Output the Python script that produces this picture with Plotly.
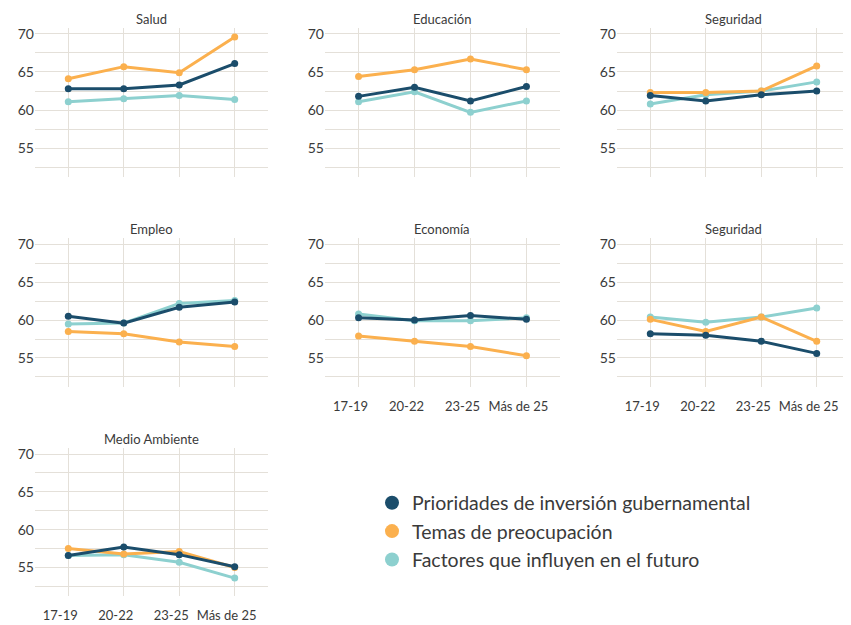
import plotly.graph_objects as go

# target window size and the page offset of the plot div inside it
WIN_W, WIN_H = 851, 625
DX, DY = 8, 10
W, H = WIN_W - DX, WIN_H - DY

age_groups = ["17-19", "20-22", "23-25", "Más de 25"]
series_names = [
    "Prioridades de inversión gubernamental",
    "Temas de preocupación",
    "Factores que influyen en el futuro",
]
panel_titles = ["Salud", "Educación", "Seguridad", "Empleo", "Economía", "Seguridad", "Medio Ambiente"]

# values per panel (same order as panel_titles)
prioridades = [
    [62.8, 62.8, 63.3, 66.1],
    [61.8, 63.0, 61.2, 63.1],
    [61.9, 61.2, 62.0, 62.5],
    [60.5, 59.6, 61.7, 62.4],
    [60.3, 60.0, 60.6, 60.1],
    [58.2, 58.0, 57.2, 55.6],
    [56.6, 57.7, 56.7, 55.1],
]
preocupacion = [
    [64.1, 65.7, 64.9, 69.6],
    [64.4, 65.3, 66.7, 65.3],
    [62.3, 62.3, 62.5, 65.8],
    [58.5, 58.2, 57.1, 56.5],
    [57.9, 57.2, 56.5, 55.3],
    [60.1, 58.5, 60.4, 57.2],
    [57.5, 56.8, 57.1, 55.0],
]
futuro = [
    [61.1, 61.5, 61.9, 61.4],
    [61.1, 62.4, 59.7, 61.2],
    [60.8, 62.0, 62.5, 63.7],
    [59.5, 59.6, 62.2, 62.6],
    [60.8, 59.9, 59.9, 60.3],
    [60.4, 59.7, 60.4, 61.6],
    [56.6, 56.7, 55.7, 53.6],
]
y_tick_vals = [52.5, 55, 57.5, 60, 62.5, 65, 67.5, 70]
y_tick_text = ["", "55", "", "60", "", "65", "", "70"]

colors = ["#1b4d6b", "#fbb04e", "#8dd0cf"]
grid_color = "#e4e0d9"
text_color = "#3a3a3a"
FONT = "Lato"


def fx(px):
    return (px - DX) / W


def fy(py):
    return 1 - (py - DY) / H


# layout positions (window pixels)
cols_px = [(35, 268), (325, 560), (617, 850)]
rows_px = [(27, 178), (240, 390), (452, 602)]
positions = [(0, 0), (0, 1), (0, 2), (1, 0), (1, 1), (1, 2), (2, 0)]
show_xlabels = [False, False, False, False, True, True, True]
label_standoff = [0, 0, 0, 0, 10, 10, 10]

fig = go.Figure()
layout = {}
annotations = []

for i, (r, c) in enumerate(positions):
    ax = "" if i == 0 else str(i + 1)
    x0, x1 = cols_px[c]
    y0, y1 = rows_px[r]
    # draw order: futuro bottom, preocupacion middle, prioridades top
    for data, col in [(futuro, colors[2]), (preocupacion, colors[1]), (prioridades, colors[0])]:
        fig.add_trace(go.Scatter(
            x=age_groups, y=data[i], mode="lines+markers",
            line=dict(color=col, width=3), marker=dict(color=col, size=7),
            showlegend=False, xaxis="x" + ax, yaxis="y" + ax, hoverinfo="skip",
        ))
    layout["xaxis" + ax] = dict(
        domain=[fx(x0), min(fx(x1), 1)], anchor="y" + ax, type="category",
        categoryorder="array", categoryarray=age_groups,
        range=[-0.6, 3.6], showgrid=True, gridcolor=grid_color, gridwidth=1,
        zeroline=False, showline=False, ticks="",
        showticklabels=show_xlabels[i], ticklabelstandoff=label_standoff[i],
        ticklabelshift=-8,
        tickfont=dict(family=FONT, size=13, color=text_color),
        fixedrange=True,
    )
    layout["yaxis" + ax] = dict(
        domain=[fy(y1), fy(y0)], anchor="x" + ax,
        range=[51.2, 70.8], tickmode="array", tickvals=y_tick_vals, ticktext=y_tick_text,
        showgrid=True, gridcolor=grid_color, gridwidth=1,
        zeroline=False, showline=False, ticks="",
        tickfont=dict(family=FONT, size=14, color=text_color),
        fixedrange=True,
    )
    annotations.append(dict(
        text=panel_titles[i], x=fx((x0 + x1) / 2), y=fy(y0 - 9),
        xref="paper", yref="paper", xanchor="center", yanchor="middle",
        showarrow=False, font=dict(family=FONT, size=13, color=text_color),
    ))

# legend entries
for name, col in zip(series_names, colors):
    fig.add_trace(go.Scatter(
        x=[None], y=[None], mode="markers", name=name, legendgroup=name,
        marker=dict(color=col, size=14), showlegend=True,
    ))

fig.update_layout(
    width=W, height=H,
    margin=dict(l=0, r=0, t=0, b=0),
    paper_bgcolor="white", plot_bgcolor="white",
    annotations=annotations,
    legend=dict(
        x=fx(372), y=fy(488), xanchor="left", yanchor="top",
        font=dict(family=FONT, size=19.5, color=text_color),
        tracegroupgap=0, bgcolor="rgba(0,0,0,0)",
    ),
    **layout,
)

fig.write_html("out.html")
